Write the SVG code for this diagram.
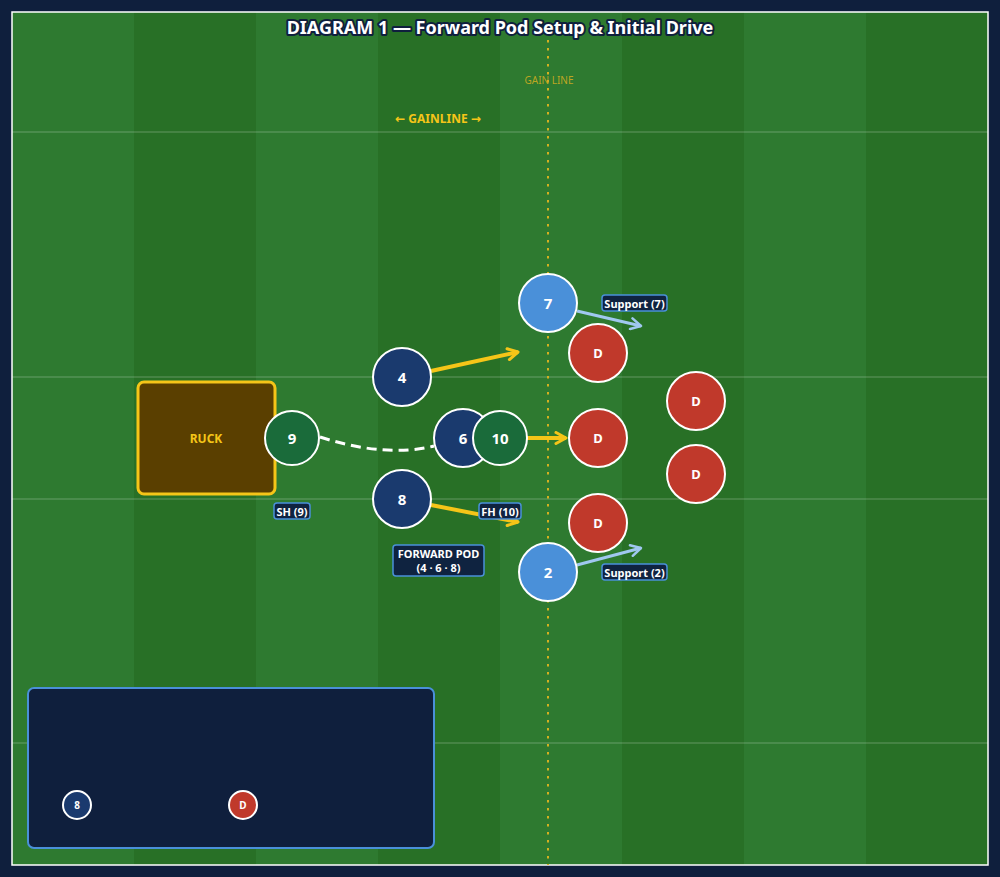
<svg xmlns="http://www.w3.org/2000/svg" width="1000" height="877" viewBox="0 0 1000 877">
<defs>
<style>
.title{font-family:"Noto Sans","DejaVu Sans",sans-serif;font-size:18px;font-weight:700;fill:#ffffff;stroke:#0f1f3d;stroke-width:4px;paint-order:stroke;stroke-linejoin:round}
.num{font-family:"Noto Sans","DejaVu Sans",sans-serif;font-size:15px;font-weight:700;fill:#ffffff;text-anchor:middle;dominant-baseline:central}
.dnum{font-family:"Noto Sans","DejaVu Sans",sans-serif;font-size:13px;font-weight:700;fill:#ffffff;text-anchor:middle;dominant-baseline:central}
.lbl{font-family:"Noto Sans","DejaVu Sans",sans-serif;font-size:11px;font-weight:700;fill:#ffffff;text-anchor:middle;dominant-baseline:central}
.lblbox{fill:#0f2340;stroke:#4a90d9;stroke-width:1.5}
.nav{fill:#1a3a6e;stroke:#ffffff;stroke-width:2}
.lb{fill:#4a90d9;stroke:#ffffff;stroke-width:2}
.gr{fill:#1a6b3a;stroke:#ffffff;stroke-width:2}
.def{fill:#c0392b;stroke:#ffffff;stroke-width:2}
.yarrow{stroke:#f5c518;stroke-width:4;fill:none;marker-end:url(#ya)}
.barrow{stroke:#a0c8f0;stroke-width:3;fill:none;marker-end:url(#ba)}
.hline{stroke:#ffffff;stroke-opacity:0.28;stroke-width:1}
</style>
<marker id="ya" viewBox="0 0 14 14" refX="12" refY="7" markerWidth="14" markerHeight="14" markerUnits="userSpaceOnUse" orient="auto">
<path d="M2,1.5 L12,7 L2,12.5" fill="none" stroke="#f5c518" stroke-width="3" stroke-linecap="round" stroke-linejoin="round"/>
</marker>
<marker id="ba" viewBox="0 0 14 14" refX="12" refY="7" markerWidth="14" markerHeight="14" markerUnits="userSpaceOnUse" orient="auto">
<path d="M2,1.5 L12,7 L2,12.5" fill="none" stroke="#a0c8f0" stroke-width="2.5" stroke-linecap="round" stroke-linejoin="round"/>
</marker>
</defs>
<rect x="0" y="0" width="1000" height="877" fill="#0f1f3d"/>
<g id="field">
<rect x="12" y="12" width="976" height="853" fill="#2e7a30"/>
<rect x="134" y="12" width="122" height="853" fill="#287026"/>
<rect x="378" y="12" width="122" height="853" fill="#287026"/>
<rect x="622" y="12" width="122" height="853" fill="#287026"/>
<rect x="866" y="12" width="122" height="853" fill="#287026"/>
<line class="hline" x1="12" y1="132" x2="988" y2="132"/>
<line class="hline" x1="12" y1="377" x2="988" y2="377"/>
<line class="hline" x1="12" y1="499" x2="988" y2="499"/>
<line class="hline" x1="12" y1="743" x2="988" y2="743"/>
<rect x="12" y="12" width="976" height="853" fill="none" stroke="#ffffff" stroke-width="1.5"/>
<line x1="548" y1="40" x2="548" y2="865" stroke="#d4b020" stroke-width="2" stroke-dasharray="2.5 5.5"/>
<text x="549" y="84" font-family="Noto Sans, DejaVu Sans, sans-serif" font-size="10" fill="#d0ac20" fill-opacity="0.9" text-anchor="middle">GAIN LINE</text>
<text x="438" y="123" font-family="Noto Sans, DejaVu Sans, sans-serif" font-size="12" font-weight="700" fill="#f5c518" text-anchor="middle">← GAINLINE →</text>
</g>
<text class="title" x="500" y="34" text-anchor="middle">DIAGRAM 1 — Forward Pod Setup &amp; Initial Drive</text>
<g id="connectors">
<path d="M320,437 Q385,458 434,446" fill="none" stroke="#ffffff" stroke-width="3" stroke-dasharray="10 6"/>
<line class="yarrow" x1="431" y1="371" x2="518" y2="352"/>
<line class="yarrow" x1="431" y1="505" x2="518" y2="522"/>
<line class="yarrow" x1="527" y1="438" x2="566" y2="438"/>
<line class="barrow" x1="577" y1="311" x2="641" y2="326"/>
<line class="barrow" x1="577" y1="565" x2="641" y2="548"/>
</g>
<g id="ruck">
<rect x="138" y="382" width="137" height="112" rx="6" fill="#5a3f00" stroke="#f5c518" stroke-width="3"/>
<text x="206" y="438" font-family="Noto Sans, DejaVu Sans, sans-serif" font-size="12" font-weight="700" fill="#f5c518" text-anchor="middle" dominant-baseline="central">RUCK</text>
</g>
<g id="p7"><circle class="lb" cx="548" cy="303" r="29"/><text class="num" x="548" y="303">7</text></g>
<g id="p2"><circle class="lb" cx="548" cy="572" r="29"/><text class="num" x="548" y="572">2</text></g>
<g id="p4"><circle class="nav" cx="402" cy="377" r="29"/><text class="num" x="402" y="377">4</text></g>
<g id="p8"><circle class="nav" cx="402" cy="499" r="29"/><text class="num" x="402" y="499">8</text></g>
<g id="p6"><circle class="nav" cx="463" cy="438" r="29"/><text class="num" x="463" y="438">6</text></g>
<g id="p10"><circle class="gr" cx="500" cy="438" r="27"/><text class="num" x="500" y="438">10</text></g>
<g id="p9"><circle class="gr" cx="292" cy="438" r="27"/><text class="num" x="292" y="438">9</text></g>
<g id="d1"><circle class="def" cx="598" cy="353" r="29"/><text class="dnum" x="598" y="353">D</text></g>
<g id="d2"><circle class="def" cx="598" cy="438" r="29"/><text class="dnum" x="598" y="438">D</text></g>
<g id="d3"><circle class="def" cx="598" cy="523" r="29"/><text class="dnum" x="598" y="523">D</text></g>
<g id="d4"><circle class="def" cx="696" cy="401" r="29"/><text class="dnum" x="696" y="401">D</text></g>
<g id="d5"><circle class="def" cx="696" cy="474" r="29"/><text class="dnum" x="696" y="474">D</text></g>
<g id="lbl-sh"><rect class="lblbox" x="274" y="503" width="36" height="16" rx="3"/><text class="lbl" x="292" y="511">SH (9)</text></g>
<g id="lbl-fh"><rect class="lblbox" x="479" y="503" width="42" height="16" rx="3"/><text class="lbl" x="500" y="511">FH (10)</text></g>
<g id="lbl-s7"><rect class="lblbox" x="602" y="295" width="65" height="16" rx="3"/><text class="lbl" x="634.5" y="303">Support (7)</text></g>
<g id="lbl-s2"><rect class="lblbox" x="602" y="564" width="65" height="16" rx="3"/><text class="lbl" x="634.5" y="572">Support (2)</text></g>
<g id="lbl-pod"><rect class="lblbox" x="393" y="545" width="91" height="31" rx="3"/>
<text class="lbl" x="438.5" y="553" font-size="12">FORWARD POD</text>
<text class="lbl" x="438.5" y="567" font-size="12">(4 · 6 · 8)</text></g>
<g id="legend">
<rect x="28" y="688" width="406" height="160" rx="6" fill="#0f1f3d" stroke="#4a90d9" stroke-width="2"/>
<circle class="nav" cx="77" cy="805" r="14"/><text x="77" y="805" font-family="Noto Sans, DejaVu Sans, sans-serif" font-size="10" font-weight="700" fill="#ffffff" text-anchor="middle" dominant-baseline="central">8</text>
<circle class="def" cx="243" cy="805" r="14"/><text x="243" y="805" font-family="Noto Sans, DejaVu Sans, sans-serif" font-size="10" font-weight="700" fill="#ffffff" text-anchor="middle" dominant-baseline="central">D</text>
</g>
</svg>
